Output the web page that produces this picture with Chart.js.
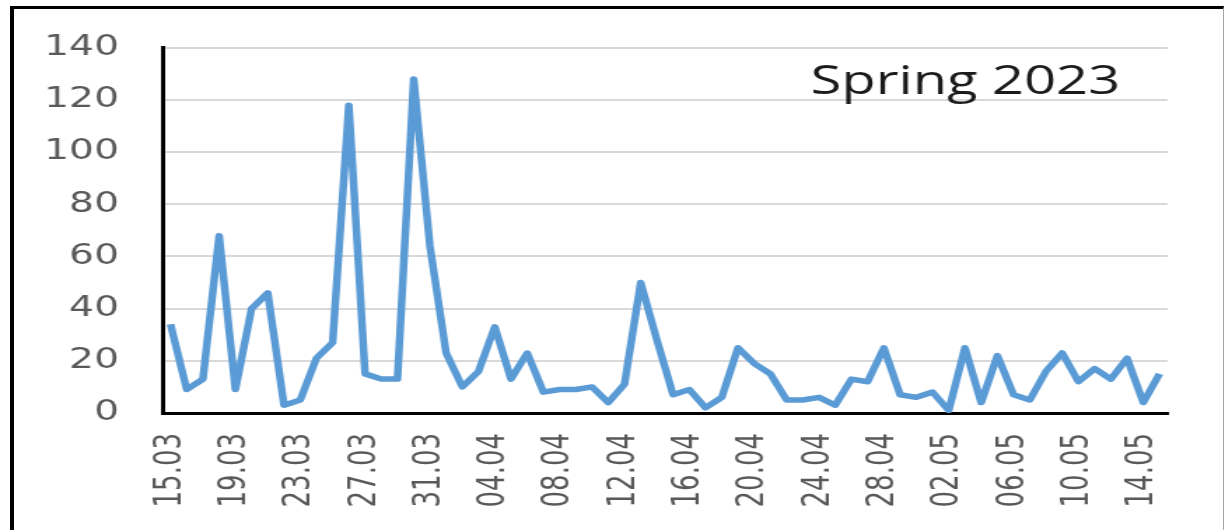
<!DOCTYPE html>
<html>
<head>
<meta charset="utf-8">
<script src="https://cdn.jsdelivr.net/npm/chart.js@4/dist/chart.umd.min.js"></script>
<style>
  body { margin: 0; width: 1225px; height: 530px; overflow: hidden; background: #fff; }
  /* outer frame of the picture */
  #frame { position: absolute; left: 10px; top: 6px; width: 1209px; height: 600px;
           border-top: 3px solid #000; border-left: 4px solid #000; border-right: 1px solid #a6a6a6; }
  /* the original picture is stretched sideways, so the chart is drawn narrow and widened */
  #wrap { position: absolute; left: 0; top: 0; width: 875px; height: 530px;
          transform: scaleX(1.4); transform-origin: 0 0; }
</style>
</head>
<body>
<div id="frame"></div>
<div id="wrap"><canvas id="springChart"></canvas></div>

<script>
// days 15.03 .. 15.05
const dates = [
  '15.03','16.03','17.03','18.03','19.03','20.03','21.03','22.03','23.03','24.03','25.03','26.03','27.03','28.03','29.03','30.03','31.03',
  '01.04','02.04','03.04','04.04','05.04','06.04','07.04','08.04','09.04','10.04','11.04','12.04','13.04','14.04','15.04',
  '16.04','17.04','18.04','19.04','20.04','21.04','22.04','23.04','24.04','25.04','26.04','27.04','28.04','29.04','30.04',
  '01.05','02.05','03.05','04.05','05.05','06.05','07.05','08.05','09.05','10.05','11.05','12.05','13.05','14.05','15.05'
];

const marchValues = [34, 9, 13, 68, 9, 40, 46, 3, 5, 21, 27, 118, 15, 13, 13, 128, 64];
const aprilValues = [23, 10, 16, 33, 13, 23, 8, 9, 9, 10, 4, 11, 50, 28, 7,
                     9, 2, 6, 25, 19, 15, 5, 5, 6, 3, 13, 12, 25, 7, 6];
const mayValues = [8, 1, 25, 4, 22, 7, 5, 16, 23, 12, 17, 13, 21, 4, 15];

const yTicks = [0, 20, 40, 60, 80, 100, 120, 140];
const chartLabel = 'Spring 2023';
const labelEvery = 4;

const seriesValues = marchValues.concat(aprilValues, mayValues);

// text in the top right corner of the plot
const cornerText = {
  id: 'cornerText',
  afterDraw(chart) {
    const { ctx, chartArea } = chart;
    ctx.save();
    ctx.font = '40px "Open Sans"';
    ctx.fillStyle = '#1a1a1a';
    ctx.textAlign = 'right';
    ctx.textBaseline = 'alphabetic';
    ctx.fillText(chartLabel, chartArea.right - 34, chartArea.top + 46);
    ctx.restore();
  }
};

const ctx = document.getElementById('springChart').getContext('2d');
new Chart(ctx, {
  type: 'line',
  data: {
    labels: dates,
    datasets: [{
      label: chartLabel,
      data: seriesValues,
      borderColor: '#5b9bd5',
      borderWidth: 5.5,
      borderJoinStyle: 'round',
      pointRadius: 0,
      tension: 0,
      fill: false
    }]
  },
  options: {
    responsive: true,
    maintainAspectRatio: false,
    animation: false,
    layout: { padding: { top: 47, right: 41, bottom: 0, left: 0 } },
    plugins: {
      legend: { display: false },
      tooltip: { enabled: false }
    },
    scales: {
      x: {
        offset: true,
        grid: { display: false, drawTicks: false },
        border: { color: '#000', width: 3 },
        ticks: {
          autoSkip: false,
          minRotation: 90,
          maxRotation: 90,
          padding: 20,
          color: '#595959',
          font: { family: '"DejaVu Sans"', size: 26 },
          callback: function (value, index) {
            return index % labelEvery === 0 ? this.getLabelForValue(value) : '';
          }
        },
        afterFit: (scale) => {
          scale.height = 117;
          scale.paddingLeft = 0;
          scale.paddingRight = 0;
        }
      },
      y: {
        min: yTicks[0],
        max: yTicks[yTicks.length - 1],
        afterBuildTicks: (scale) => { scale.ticks = yTicks.map(v => ({ value: v })); },
        grid: { color: '#d9d9d9', lineWidth: 2, drawTicks: false },
        border: { color: '#000', width: 3 },
        ticks: {
          padding: 31,
          color: '#595959',
          font: { family: '"DejaVu Sans"', size: 28 }
        },
        afterFit: (scale) => { scale.width = 116; }
      }
    }
  },
  plugins: [cornerText]
});
</script>
</body>
</html>
